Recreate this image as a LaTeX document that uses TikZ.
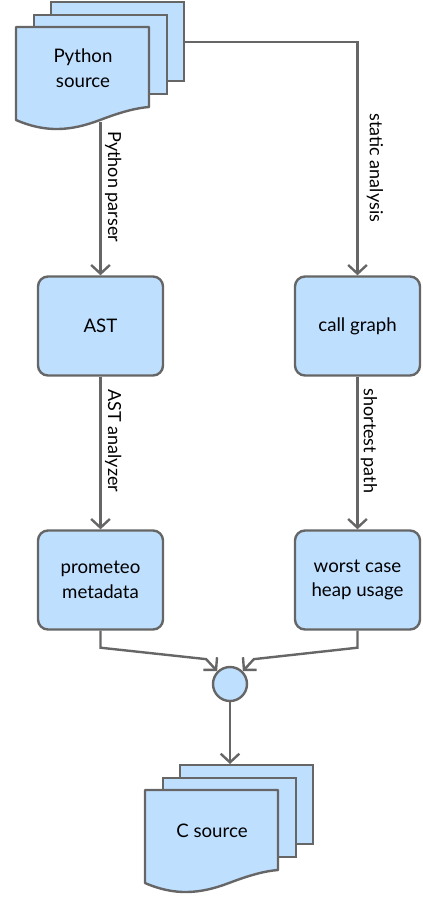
\documentclass[tikz,border=0pt]{standalone}
\usepackage{fontspec}
\setmainfont{Lato}
\usetikzlibrary{arrows.meta,calc,positioning}
\definecolor{boxfill}{RGB}{191,223,255}
\definecolor{boxline}{RGB}{102,102,102}
\tikzset{
  stepbox/.style={draw=boxline, fill=boxfill, line width=1.8pt, rounded corners=7.5pt,
    minimum width=93.75pt, minimum height=74.25pt, align=center, inner sep=0pt,
    font=\fontsize{14}{18.5}\selectfont},
  pagebox/.style={draw=boxline, fill=boxfill, line width=1.8pt, inner sep=0pt,
    minimum width=99.75pt, minimum height=59.25pt},
  docpage/.style={draw=boxline, fill=boxfill, line width=1.8pt, line join=round},
  doctext/.style={align=center, inner sep=0pt, font=\fontsize{14}{18.5}\selectfont},
  joincircle/.style={circle, draw=boxline, fill=boxfill, line width=1.8pt,
    minimum size=25.5pt, inner sep=0pt},
  flow/.style={draw=boxline, line width=1.8pt, -{Straight Barb[length=6.5pt,width=14pt]}},
  edgelabel/.style={rotate=-90, anchor=south, inner sep=2.5pt,
    font=\fontsize{13.5}{16.5}\selectfont}
}
% stack of three pages: name, x, y (top left of front page), text
\newcommand{\docstack}[4]{%
  \node[pagebox, anchor=north west] (#1-back) at (#2+34,#3-26) {};
  \node[pagebox, anchor=north west] (#1-mid) at (#2+17,#3-13) {};
  \draw[docpage] (#2,#3) -- ++(133,0) -- ++(0,80)
    .. controls (#2+120,#3+81) and (#2+105,#3+85) .. (#2+84,#3+93)
    .. controls (#2+55,#3+104) and (#2+30,#3+106) .. (#2,#3+93) -- cycle;
  \node[pagebox, draw=none, fill=none, anchor=north west, minimum height=69.75pt] (#1-page) at (#2,#3) {};
  \node[doctext] (#1) at (#2+67,#3+41) {#4};
}

\begin{document}
\begin{tikzpicture}[x=0.75pt, y=-0.75pt]
\useasboundingbox (0,0) rectangle (422,903);

\docstack{psrc}{16}{27}{Python\\source}
\docstack{csrc}{145}{790}{C source}

\node[stepbox] (ast) at (100.5,326) {AST};
\node[stepbox] (callgraph) at (357.5,326) {call graph};
\node[stepbox] (meta) at (100.5,580) {prometeo\\metadata};
\node[stepbox] (heap) at (357.5,580) {worst case\\heap usage};
\node[joincircle] (join) at (230,684) {};

\draw[flow] (ast.north |- psrc-page.south) -- node[edgelabel, pos=0.42] {Python parser} (ast.north);
\draw[flow] (psrc-back.east) -| node[edgelabel, pos=0.77, inner ysep=6pt] {static analysis} (callgraph.north);
\draw[flow] (ast.south) -- node[edgelabel, pos=0.42] {AST analyzer} (meta.north);
\draw[flow] (callgraph.south) -- node[edgelabel, pos=0.42, inner ysep=1.5pt] {shortest path} (heap.north);

% merge into the join point
\draw[flow] (meta.south) -- ++(0,17) -- ([shift={(-11,-12)}]join.135) -- (join.135);
\draw[flow] (heap.south) -- ++(0,17) -- ([shift={(11,-12)}]join.45) -- (join.45);
\draw[flow] (join.south) -- (join.south |- csrc-back.north);
\end{tikzpicture}
\end{document}
